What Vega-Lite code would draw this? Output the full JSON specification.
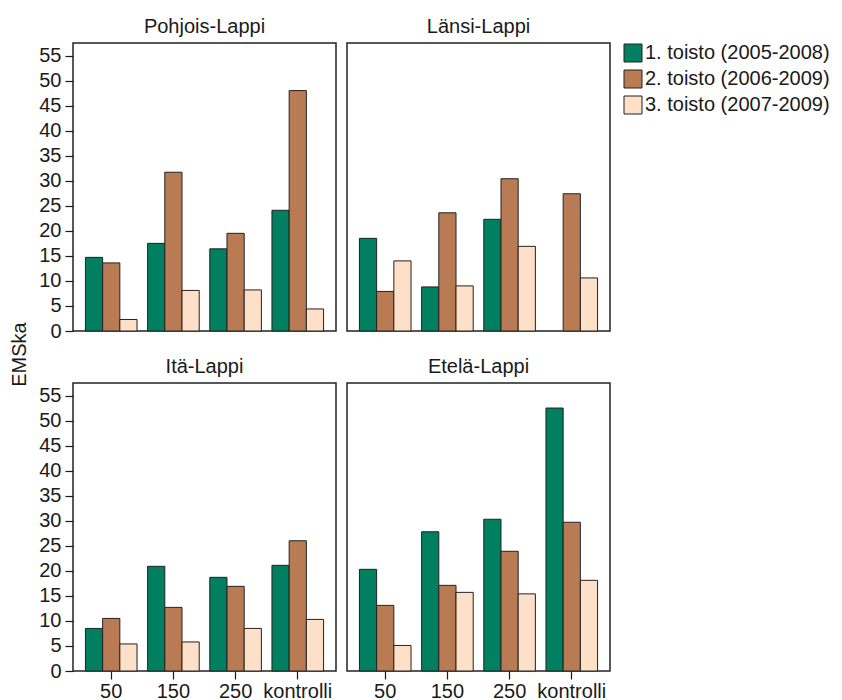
{
  "$schema": "https://vega.github.io/schema/vega-lite/v6.json",
  "bounds": "flush",
  "padding": {"left": 8, "top": 16, "right": 5, "bottom": 5},
  "config": {
    "font": "Liberation Sans",
    "view": {"stroke": "#222", "strokeWidth": 1.5},
    "title": {"fontSize": 20, "fontWeight": "normal", "color": "#1a1a1a", "offset": 6},
    "axis": {"labelFontSize": 20, "labelColor": "#1a1a1a", "tickColor": "#1a1a1a", "tickWidth": 1.2, "titleFontSize": 20, "titleFontWeight": "normal", "titleColor": "#1a1a1a", "grid": false, "domain": false}
  },
  "data": {"values": [
    {"alue": "Pohjois-Lappi", "annos": "50", "toisto": "1. toisto (2005-2008)", "EMSka": 14.7},
    {"alue": "Pohjois-Lappi", "annos": "50", "toisto": "2. toisto (2006-2009)", "EMSka": 13.6},
    {"alue": "Pohjois-Lappi", "annos": "50", "toisto": "3. toisto (2007-2009)", "EMSka": 2.3},
    {"alue": "Pohjois-Lappi", "annos": "150", "toisto": "1. toisto (2005-2008)", "EMSka": 17.5},
    {"alue": "Pohjois-Lappi", "annos": "150", "toisto": "2. toisto (2006-2009)", "EMSka": 31.7},
    {"alue": "Pohjois-Lappi", "annos": "150", "toisto": "3. toisto (2007-2009)", "EMSka": 8.1},
    {"alue": "Pohjois-Lappi", "annos": "250", "toisto": "1. toisto (2005-2008)", "EMSka": 16.4},
    {"alue": "Pohjois-Lappi", "annos": "250", "toisto": "2. toisto (2006-2009)", "EMSka": 19.5},
    {"alue": "Pohjois-Lappi", "annos": "250", "toisto": "3. toisto (2007-2009)", "EMSka": 8.2},
    {"alue": "Pohjois-Lappi", "annos": "kontrolli", "toisto": "1. toisto (2005-2008)", "EMSka": 24.1},
    {"alue": "Pohjois-Lappi", "annos": "kontrolli", "toisto": "2. toisto (2006-2009)", "EMSka": 48.0},
    {"alue": "Pohjois-Lappi", "annos": "kontrolli", "toisto": "3. toisto (2007-2009)", "EMSka": 4.4},
    {"alue": "Länsi-Lappi", "annos": "50", "toisto": "1. toisto (2005-2008)", "EMSka": 18.5},
    {"alue": "Länsi-Lappi", "annos": "50", "toisto": "2. toisto (2006-2009)", "EMSka": 7.9},
    {"alue": "Länsi-Lappi", "annos": "50", "toisto": "3. toisto (2007-2009)", "EMSka": 14.0},
    {"alue": "Länsi-Lappi", "annos": "150", "toisto": "1. toisto (2005-2008)", "EMSka": 8.8},
    {"alue": "Länsi-Lappi", "annos": "150", "toisto": "2. toisto (2006-2009)", "EMSka": 23.6},
    {"alue": "Länsi-Lappi", "annos": "150", "toisto": "3. toisto (2007-2009)", "EMSka": 9.0},
    {"alue": "Länsi-Lappi", "annos": "250", "toisto": "1. toisto (2005-2008)", "EMSka": 22.3},
    {"alue": "Länsi-Lappi", "annos": "250", "toisto": "2. toisto (2006-2009)", "EMSka": 30.4},
    {"alue": "Länsi-Lappi", "annos": "250", "toisto": "3. toisto (2007-2009)", "EMSka": 16.9},
    {"alue": "Länsi-Lappi", "annos": "kontrolli", "toisto": "2. toisto (2006-2009)", "EMSka": 27.4},
    {"alue": "Länsi-Lappi", "annos": "kontrolli", "toisto": "3. toisto (2007-2009)", "EMSka": 10.6},
    {"alue": "Itä-Lappi", "annos": "50", "toisto": "1. toisto (2005-2008)", "EMSka": 8.5},
    {"alue": "Itä-Lappi", "annos": "50", "toisto": "2. toisto (2006-2009)", "EMSka": 10.5},
    {"alue": "Itä-Lappi", "annos": "50", "toisto": "3. toisto (2007-2009)", "EMSka": 5.4},
    {"alue": "Itä-Lappi", "annos": "150", "toisto": "1. toisto (2005-2008)", "EMSka": 20.9},
    {"alue": "Itä-Lappi", "annos": "150", "toisto": "2. toisto (2006-2009)", "EMSka": 12.7},
    {"alue": "Itä-Lappi", "annos": "150", "toisto": "3. toisto (2007-2009)", "EMSka": 5.8},
    {"alue": "Itä-Lappi", "annos": "250", "toisto": "1. toisto (2005-2008)", "EMSka": 18.7},
    {"alue": "Itä-Lappi", "annos": "250", "toisto": "2. toisto (2006-2009)", "EMSka": 16.9},
    {"alue": "Itä-Lappi", "annos": "250", "toisto": "3. toisto (2007-2009)", "EMSka": 8.5},
    {"alue": "Itä-Lappi", "annos": "kontrolli", "toisto": "1. toisto (2005-2008)", "EMSka": 21.1},
    {"alue": "Itä-Lappi", "annos": "kontrolli", "toisto": "2. toisto (2006-2009)", "EMSka": 26.0},
    {"alue": "Itä-Lappi", "annos": "kontrolli", "toisto": "3. toisto (2007-2009)", "EMSka": 10.3},
    {"alue": "Etelä-Lappi", "annos": "50", "toisto": "1. toisto (2005-2008)", "EMSka": 20.3},
    {"alue": "Etelä-Lappi", "annos": "50", "toisto": "2. toisto (2006-2009)", "EMSka": 13.1},
    {"alue": "Etelä-Lappi", "annos": "50", "toisto": "3. toisto (2007-2009)", "EMSka": 5.1},
    {"alue": "Etelä-Lappi", "annos": "150", "toisto": "1. toisto (2005-2008)", "EMSka": 27.8},
    {"alue": "Etelä-Lappi", "annos": "150", "toisto": "2. toisto (2006-2009)", "EMSka": 17.1},
    {"alue": "Etelä-Lappi", "annos": "150", "toisto": "3. toisto (2007-2009)", "EMSka": 15.7},
    {"alue": "Etelä-Lappi", "annos": "250", "toisto": "1. toisto (2005-2008)", "EMSka": 30.3},
    {"alue": "Etelä-Lappi", "annos": "250", "toisto": "2. toisto (2006-2009)", "EMSka": 23.9},
    {"alue": "Etelä-Lappi", "annos": "250", "toisto": "3. toisto (2007-2009)", "EMSka": 15.4},
    {"alue": "Etelä-Lappi", "annos": "kontrolli", "toisto": "1. toisto (2005-2008)", "EMSka": 52.5},
    {"alue": "Etelä-Lappi", "annos": "kontrolli", "toisto": "2. toisto (2006-2009)", "EMSka": 29.7},
    {"alue": "Etelä-Lappi", "annos": "kontrolli", "toisto": "3. toisto (2007-2009)", "EMSka": 18.1}
  ]},
  "columns": 2,
  "spacing": {"row": 52, "column": 11},
  "concat": [
    {
      "width": 263, "height": 288,
      "title": "Pohjois-Lappi",
      "transform": [{"filter": "datum.alue === 'Pohjois-Lappi'"}],
      "mark": {"type": "bar", "stroke": "#222", "strokeWidth": 1},
      "encoding": {
        "x": {"field": "annos", "type": "nominal", "sort": ["50", "150", "250", "kontrolli"], "scale": {"domain": ["50", "150", "250", "kontrolli"], "paddingInner": 0.17, "paddingOuter": 0.2}, "axis": null},
        "xOffset": {"field": "toisto", "type": "nominal", "scale": {"domain": ["1. toisto (2005-2008)", "2. toisto (2006-2009)", "3. toisto (2007-2009)"]}},
        "y": {"field": "EMSka", "type": "quantitative", "scale": {"domain": [0, 57.5], "nice": false}, "axis": {"values": [0, 5, 10, 15, 20, 25, 30, 35, 40, 45, 50, 55], "tickSize": 8, "labelPadding": 4, "title": "EMSka", "titleX": -44, "titleY": 311}},
        "color": {"field": "toisto", "type": "nominal", "scale": {"domain": ["1. toisto (2005-2008)", "2. toisto (2006-2009)", "3. toisto (2007-2009)"], "range": ["#008060", "#b97b53", "#fedfc7"]}, "legend": {"title": null, "labelFontSize": 20, "labelColor": "#1a1a1a", "labelLimit": 400, "symbolType": "square", "symbolSize": 324, "symbolStrokeColor": "#222", "symbolStrokeWidth": 1, "rowPadding": 4, "labelOffset": 2, "offset": 12, "padding": 0}}
      }
    },
    {
      "width": 263, "height": 288,
      "title": "Länsi-Lappi",
      "transform": [{"filter": "datum.alue === 'Länsi-Lappi'"}],
      "mark": {"type": "bar", "stroke": "#222", "strokeWidth": 1},
      "encoding": {
        "x": {"field": "annos", "type": "nominal", "sort": ["50", "150", "250", "kontrolli"], "scale": {"domain": ["50", "150", "250", "kontrolli"], "paddingInner": 0.17, "paddingOuter": 0.2}, "axis": null},
        "xOffset": {"field": "toisto", "type": "nominal", "scale": {"domain": ["1. toisto (2005-2008)", "2. toisto (2006-2009)", "3. toisto (2007-2009)"]}},
        "y": {"field": "EMSka", "type": "quantitative", "scale": {"domain": [0, 57.5], "nice": false}, "axis": null},
        "color": {"field": "toisto", "type": "nominal", "scale": {"domain": ["1. toisto (2005-2008)", "2. toisto (2006-2009)", "3. toisto (2007-2009)"], "range": ["#008060", "#b97b53", "#fedfc7"]}}
      }
    },
    {
      "width": 263, "height": 288,
      "title": "Itä-Lappi",
      "transform": [{"filter": "datum.alue === 'Itä-Lappi'"}],
      "mark": {"type": "bar", "stroke": "#222", "strokeWidth": 1},
      "encoding": {
        "x": {"field": "annos", "type": "nominal", "sort": ["50", "150", "250", "kontrolli"], "scale": {"domain": ["50", "150", "250", "kontrolli"], "paddingInner": 0.17, "paddingOuter": 0.2}, "axis": {"title": null, "labelAngle": 0, "tickSize": 8, "labelPadding": 2}},
        "xOffset": {"field": "toisto", "type": "nominal", "scale": {"domain": ["1. toisto (2005-2008)", "2. toisto (2006-2009)", "3. toisto (2007-2009)"]}},
        "y": {"field": "EMSka", "type": "quantitative", "scale": {"domain": [0, 57.5], "nice": false}, "axis": {"values": [0, 5, 10, 15, 20, 25, 30, 35, 40, 45, 50, 55], "tickSize": 8, "labelPadding": 4, "title": null}},
        "color": {"field": "toisto", "type": "nominal", "scale": {"domain": ["1. toisto (2005-2008)", "2. toisto (2006-2009)", "3. toisto (2007-2009)"], "range": ["#008060", "#b97b53", "#fedfc7"]}}
      }
    },
    {
      "width": 263, "height": 288,
      "title": "Etelä-Lappi",
      "transform": [{"filter": "datum.alue === 'Etelä-Lappi'"}],
      "mark": {"type": "bar", "stroke": "#222", "strokeWidth": 1},
      "encoding": {
        "x": {"field": "annos", "type": "nominal", "sort": ["50", "150", "250", "kontrolli"], "scale": {"domain": ["50", "150", "250", "kontrolli"], "paddingInner": 0.17, "paddingOuter": 0.2}, "axis": {"title": null, "labelAngle": 0, "tickSize": 8, "labelPadding": 2}},
        "xOffset": {"field": "toisto", "type": "nominal", "scale": {"domain": ["1. toisto (2005-2008)", "2. toisto (2006-2009)", "3. toisto (2007-2009)"]}},
        "y": {"field": "EMSka", "type": "quantitative", "scale": {"domain": [0, 57.5], "nice": false}, "axis": null},
        "color": {"field": "toisto", "type": "nominal", "scale": {"domain": ["1. toisto (2005-2008)", "2. toisto (2006-2009)", "3. toisto (2007-2009)"], "range": ["#008060", "#b97b53", "#fedfc7"]}}
      }
    }
  ]
}
